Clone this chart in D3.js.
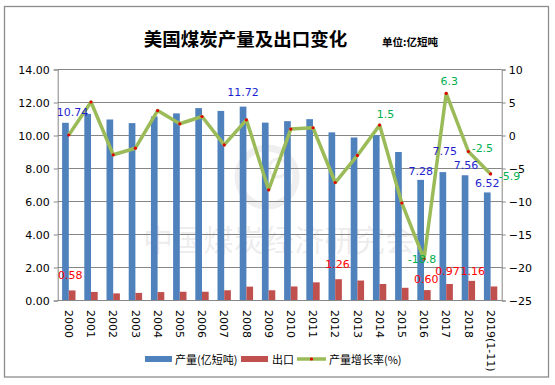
<!DOCTYPE html>
<html lang="zh">
<head>
<meta charset="UTF-8"/>
<title>美国煤炭产量及出口变化</title>
<script src="https://d3js.org/d3.v7.min.js"></script>
<style>
  body { margin:0; background:#fff; }
  svg text { font-family: Verdana, "DejaVu Sans", sans-serif; }
  svg .cjk { font-family: "Noto Sans CJK SC", sans-serif; }
</style>
</head>
<body>
<svg width="555" height="385"></svg>
<script>
  const years = ['2000', '2001', '2002', '2003', '2004', '2005', '2006', '2007', '2008', '2009',
    '2010', '2011', '2012', '2013', '2014', '2015', '2016', '2017', '2018', '2019(1-11)'];
  // 产量 (亿短吨)
  const output = [10.74, 11.28, 10.94, 10.72, 11.12, 11.31, 11.63, 11.46, 11.72, 10.75,
    10.84, 10.96, 10.16, 9.85, 10.00, 8.97, 7.28, 7.75, 7.56, 6.52];
  // 出口 (亿短吨)
  const exportVol = [0.58, 0.49, 0.40, 0.43, 0.48, 0.50, 0.50, 0.59, 0.81, 0.59,
    0.82, 1.07, 1.26, 1.18, 0.97, 0.74, 0.60, 0.97, 1.16, 0.82];
  // 产量增长率 (%)
  const growth = [0, 5.0, -3.0, -2.0, 3.7, 1.7, 2.8, -1.5, 2.3, -8.3,
    0.9, 1.1, -7.2, -3.1, 1.5, -10.3, -18.8, 6.3, -2.5, -5.9];
  const leftTicks = [0, 2, 4, 6, 8, 10, 12, 14];
  const rightTicks = [-25, -20, -15, -10, -5, 0, 5, 10];

  // which points carry a data label in the original
  const outputLabelIdx = [0, 8, 16, 17, 18, 19];
  const exportLabelIdx = [0, 12, 16, 17, 18];
  const growthLabelIdx = [14, 16, 17, 18, 19];

  // hand nudges of labels (dx, dy) like in the excel chart
  const outputNudge = {0: [7, -2], 8: [0, -6], 17: [2, -12], 18: [1, -1]};
  const exportNudge = {0: [-2, -3], 12: [-1, -3], 16: [-1, 1], 17: [-2, -1], 18: [1, 2]};
  const growthNudge = {14: [6, -11], 16: [-2, 0], 17: [3, -12], 18: [14, -4], 19: [19, 2]};

  const svg = d3.select('svg');
  const plotL = 57.7, plotR = 501.7, plotT = 69, plotB = 300;
  const gridColor = '#868686';

  // frame
  svg.append('rect')
    .attr('x', 4.5).attr('y', 6.5).attr('width', 544).attr('height', 370.5)
    .attr('fill', '#fff').attr('stroke', '#8c8c8c').attr('stroke-width', 1.3);

  const x = d3.scaleBand().domain(years).range([plotL, plotR]).paddingInner(0).paddingOuter(0);
  const xSub = d3.scaleBand().domain(['output', 'export']).range([0, x.bandwidth()])
    .paddingInner(0).paddingOuter(0.66);
  const yL = d3.scaleLinear().domain([0, 14]).range([plotB, plotT]);
  const yR = d3.scaleLinear().domain([-25, 10]).range([plotB, plotT]);

  // watermark
  const wm = svg.append('g').attr('opacity', 0.09);
  wm.append('circle').attr('cx', 267).attr('cy', 177).attr('r', 29)
    .attr('fill', 'none').attr('stroke', '#555').attr('stroke-width', 7);
  wm.append('circle').attr('cx', 278).attr('cy', 168).attr('r', 9)
    .attr('fill', 'none').attr('stroke', '#555').attr('stroke-width', 3);
  wm.append('text').attr('class', 'cjk')
    .attr('x', 143).attr('y', 251)
    .attr('font-size', 30).attr('fill', '#444')
    .attr('textLength', 272)
    .text('中国煤炭经济研究会');

  // gridlines
  svg.append('g').selectAll('line')
    .data(leftTicks.filter(d => d > 0))
    .join('line')
    .attr('x1', plotL).attr('x2', plotR)
    .attr('y1', d => Math.round(yL(d)) + 0.5).attr('y2', d => Math.round(yL(d)) + 0.5)
    .attr('stroke', gridColor).attr('stroke-width', 1);

  // left axis
  const axL = svg.append('g')
    .attr('transform', `translate(${plotL}, 0.5)`)
    .call(d3.axisLeft(yL).tickValues(leftTicks).tickSize(4).tickPadding(4).tickFormat(d3.format('.2f')));
  // right axis
  const axR = svg.append('g')
    .attr('transform', `translate(${plotR}, 0.5)`)
    .call(d3.axisRight(yR).tickValues(rightTicks).tickSize(4).tickPadding(3));
  [axL, axR].forEach(ax => {
    ax.selectAll('path, line').attr('stroke', gridColor);
    ax.selectAll('text').attr('fill', '#000').attr('font-size', 11)
      .style('font-family', 'Verdana, "DejaVu Sans", sans-serif');
  });
  axR.selectAll('text').attr('text-anchor', 'start');

  // bars
  const bars = svg.append('g');
  bars.selectAll('rect.out')
    .data(output)
    .join('rect')
    .attr('class', 'out')
    .attr('x', (d, i) => x(years[i]) + xSub('output'))
    .attr('y', d => yL(d))
    .attr('width', xSub.bandwidth())
    .attr('height', d => yL(0) - yL(d))
    .attr('fill', '#4f81bd');
  bars.selectAll('rect.exp')
    .data(exportVol)
    .join('rect')
    .attr('class', 'exp')
    .attr('x', (d, i) => x(years[i]) + xSub('export'))
    .attr('y', d => yL(d))
    .attr('width', xSub.bandwidth())
    .attr('height', d => yL(0) - yL(d))
    .attr('fill', '#c0504d');

  // x axis line
  svg.append('line')
    .attr('x1', plotL).attr('x2', plotR).attr('y1', plotB + 0.5).attr('y2', plotB + 0.5)
    .attr('stroke', gridColor);

  // growth line
  const cx = i => x(years[i]) + x.bandwidth() / 2;
  const line = d3.line().x((d, i) => cx(i)).y(d => yR(d));
  svg.append('path')
    .datum(growth)
    .attr('d', line)
    .attr('fill', 'none')
    .attr('stroke', '#9bbb59')
    .attr('stroke-width', 3.5)
    .attr('stroke-linejoin', 'round');
  svg.append('g').selectAll('circle')
    .data(growth)
    .join('circle')
    .attr('cx', (d, i) => cx(i))
    .attr('cy', d => yR(d))
    .attr('r', 1.6)
    .attr('fill', '#e00000');

  // data labels
  svg.append('g').selectAll('text')
    .data(outputLabelIdx)
    .join('text')
    .attr('x', i => x(years[i]) + xSub('output') + xSub.bandwidth() / 2 + (outputNudge[i] || [0, 0])[0])
    .attr('y', i => yL(output[i]) - 5 + (outputNudge[i] || [0, 0])[1])
    .attr('text-anchor', 'middle')
    .attr('font-size', 11)
    .attr('fill', '#1f1fd0')
    .text(i => output[i].toFixed(2));

  svg.append('g').selectAll('text')
    .data(exportLabelIdx)
    .join('text')
    .attr('x', i => x(years[i]) + xSub('export') + xSub.bandwidth() / 2 + (exportNudge[i] || [0, 0])[0])
    .attr('y', i => yL(exportVol[i]) - 8 + (exportNudge[i] || [0, 0])[1])
    .attr('text-anchor', 'middle')
    .attr('font-size', 11)
    .attr('fill', '#ff0000')
    .text(i => exportVol[i].toFixed(2));

  svg.append('g').selectAll('text')
    .data(growthLabelIdx)
    .join('text')
    .attr('x', i => cx(i) + growthNudge[i][0])
    .attr('y', i => yR(growth[i]) + 4 + growthNudge[i][1])
    .attr('text-anchor', 'middle')
    .attr('font-size', 11)
    .attr('fill', '#00b050')
    .text(i => growth[i].toFixed(1));

  // x labels, vertical
  svg.append('g').selectAll('text')
    .data(years)
    .join('text')
    .attr('transform', d => `translate(${x(d) + x.bandwidth() / 2}, 310) rotate(90)`)
    .attr('dy', '0.35em')
    .attr('font-size', 11)
    .attr('fill', '#000')
    .text(d => d);

  // title
  svg.append('text')
    .attr('class', 'cjk')
    .attr('x', 245.5).attr('y', 46)
    .attr('text-anchor', 'middle')
    .attr('font-size', 18.5)
    .attr('font-weight', 'bold')
    .text('美国煤炭产量及出口变化');
  svg.append('text')
    .attr('class', 'cjk')
    .attr('x', 382).attr('y', 46)
    .attr('font-size', 10.5)
    .attr('font-weight', 'bold')
    .text('单位:亿短吨');

  // legend
  const legend = svg.append('g').attr('class', 'legend');
  legend.append('rect').attr('x', 145).attr('y', 356).attr('width', 27).attr('height', 6).attr('fill', '#4f81bd');
  legend.append('text').attr('class', 'cjk').attr('x', 175).attr('y', 363.5).attr('font-size', 11).text('产量(亿短吨)');
  legend.append('rect').attr('x', 241).attr('y', 356).attr('width', 27).attr('height', 6).attr('fill', '#c0504d');
  legend.append('text').attr('class', 'cjk').attr('x', 272).attr('y', 363.5).attr('font-size', 11).text('出口');
  legend.append('line').attr('x1', 297).attr('x2', 326).attr('y1', 359).attr('y2', 359)
    .attr('stroke', '#9bbb59').attr('stroke-width', 3.5);
  legend.append('circle').attr('cx', 311.5).attr('cy', 359).attr('r', 1.6).attr('fill', '#e00000');
  legend.append('text').attr('class', 'cjk').attr('x', 329).attr('y', 363.5).attr('font-size', 11).text('产量增长率(%)');
</script>
</body>
</html>
